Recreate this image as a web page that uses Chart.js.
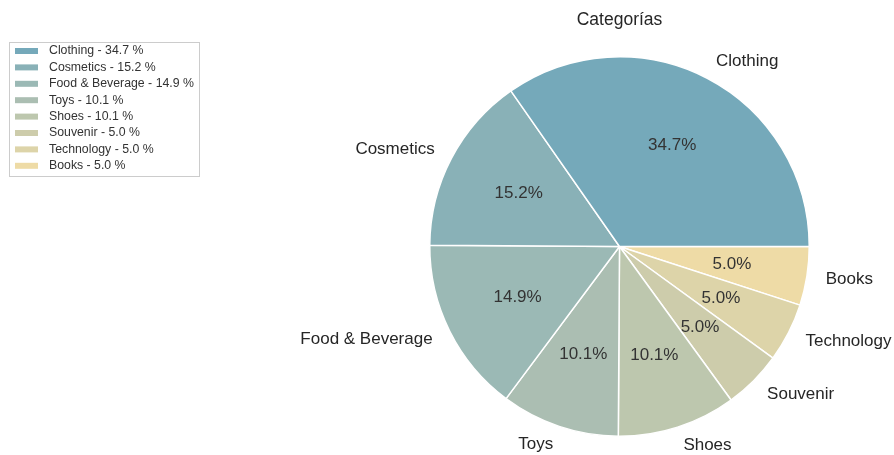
<!DOCTYPE html>
<html>
<head>
<meta charset="utf-8">
<script src="https://cdn.jsdelivr.net/npm/chart.js@4"></script>
<style>
  html, body { margin: 0; padding: 0; background: #fff; }
  #wrap { width: 894px; height: 455px; }
</style>
</head>
<body>
<div id="wrap"><canvas id="chart" width="894" height="455"></canvas></div>
<script>
const categorias = ['Clothing', 'Cosmetics', 'Food & Beverage', 'Toys', 'Shoes', 'Souvenir', 'Technology', 'Books'];
const porcentagens = [34.7, 15.2, 14.9, 10.1, 10.1, 5.0, 5.0, 5.0];
const cores = ['#75a9ba', '#89b1b7', '#9bb9b5', '#abbeb2', '#bdc7ae', '#cdccab', '#ddd4a9', '#eedba6'];
const titulo = 'Categorías';

// pie goes counter-clockwise from 3 o'clock, so feed Chart.js the reversed order
const labelsRev = categorias.slice().reverse();
const dadosRev = porcentagens.slice().reverse();
const coresRev = cores.slice().reverse();

const fonte = '"Liberation Sans", Arial, sans-serif';

const rotulosPlugin = {
    id: 'rotulos',
    afterDatasetsDraw(chart) {
        const ctx = chart.ctx;
        const arcs = chart.getDatasetMeta(0).data;
        ctx.save();
        arcs.forEach((arc, i) => {
            const meio = (arc.startAngle + arc.endAngle) / 2;
            const r = arc.outerRadius;
            const cx = arc.x, cy = arc.y;
            const cos = Math.cos(meio), sin = Math.sin(meio);

            // percentage inside
            ctx.fillStyle = '#333333';
            ctx.font = '17px ' + fonte;
            ctx.textAlign = 'center';
            ctx.textBaseline = 'middle';
            ctx.fillText(dadosRev[i].toFixed(1) + '%', cx + cos * r * 0.6, cy + sin * r * 0.6);

            // category name outside
            ctx.fillStyle = '#262626';
            ctx.font = '17px ' + fonte;
            ctx.textAlign = cos > 0 ? 'left' : 'right';
            ctx.fillText(labelsRev[i], cx + cos * r * 1.1, cy + sin * r * 1.1);
        });

        // title
        ctx.fillStyle = '#262626';
        ctx.font = '17.5px ' + fonte;
        ctx.textAlign = 'center';
        ctx.textBaseline = 'middle';
        ctx.fillText(titulo, arcs[0].x, 20);
        ctx.restore();
    }
};

const legendaPlugin = {
    id: 'legenda',
    afterDraw(chart) {
        const ctx = chart.ctx;
        ctx.save();
        ctx.strokeStyle = '#cccccc';
        ctx.lineWidth = 1;
        ctx.strokeRect(9.5, 42.5, 190, 134);
        ctx.font = '12.3px ' + fonte;
        ctx.textAlign = 'left';
        ctx.textBaseline = 'middle';
        categorias.forEach((nome, i) => {
            const y = 51 + i * 16.4;
            ctx.fillStyle = cores[i];
            ctx.fillRect(15, y - 3, 23, 6);
            ctx.fillStyle = '#333333';
            ctx.fillText(nome + ' - ' + porcentagens[i].toFixed(1) + ' %', 49, y);
        });
        ctx.restore();
    }
};

const ctx = document.getElementById('chart').getContext('2d');
const chart = new Chart(ctx, {
    type: 'pie',
    data: {
        labels: labelsRev,
        datasets: [{
            data: dadosRev,
            backgroundColor: coresRev,
            borderColor: '#ffffff',
            borderWidth: 1.5
        }]
    },
    options: {
        responsive: false,
        animation: false,
        rotation: 90,
        layout: {
            padding: { left: 429, right: 84, top: 56, bottom: 18 }
        },
        plugins: {
            legend: { display: false },
            title: { display: false },
            tooltip: { enabled: false }
        }
    },
    plugins: [rotulosPlugin, legendaPlugin]
});
</script>
</body>
</html>
